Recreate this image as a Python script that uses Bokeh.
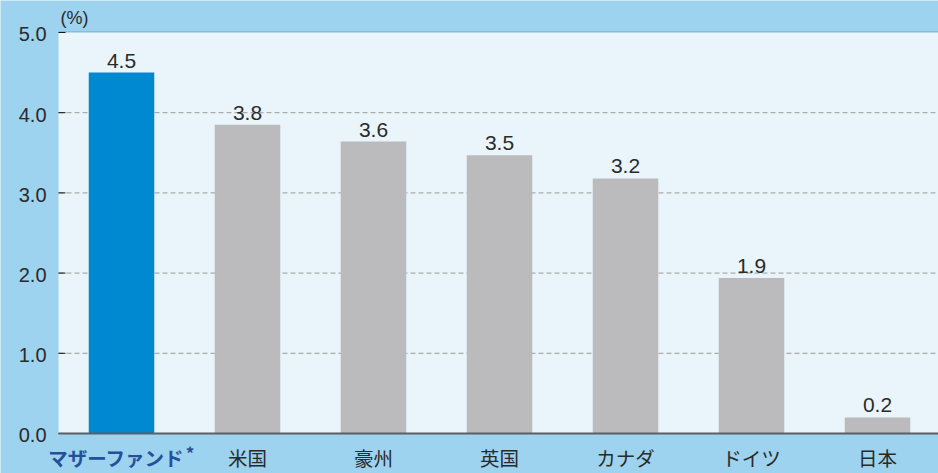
from bokeh.plotting import figure
from bokeh.models import ColumnDataSource, Range1d
from bokeh.core.properties import value
from bokeh.embed import file_html
from bokeh.resources import INLINE

categories = ["マザーファンド", "米国", "豪州", "英国", "カナダ", "ドイツ", "日本"]
values = [4.50, 3.85, 3.64, 3.47, 3.18, 1.94, 0.20]
value_labels = ["4.5", "3.8", "3.6", "3.5", "3.2", "1.9", "0.2"]
bar_colors = ["#0089d1", "#bbbbbe", "#bbbbbe", "#bbbbbe", "#bbbbbe", "#bbbbbe", "#bbbbbe"]
label_colors = ["#24509a", "#2a2a2a", "#2a2a2a", "#2a2a2a", "#2a2a2a", "#2a2a2a", "#2a2a2a"]
label_styles = ["bold", "normal", "normal", "normal", "normal", "normal", "normal"]
y_ticks = [0, 1, 2, 3, 4, 5]
y_tick_labels = ["0.0", "1.0", "2.0", "3.0", "4.0", "5.0"]
unit_label = "(%)"
footnote_mark = "*"

JP = "Noto Sans CJK JP"
NUM = "Liberation Sans"

n = len(categories)
xs = [i + 0.5 for i in range(n)]
src = ColumnDataSource(dict(x=xs, top=values, color=bar_colors, lab=value_labels))

W, H = 938, 473
p = figure(width=W, height=H, output_backend="svg", toolbar_location=None,
           x_range=Range1d(-0.4603, 6.984), y_range=Range1d(-0.499, 5.399))
p.min_border = 0
p.background_fill_color = "#9dd3ee"
p.border_fill_color = "#9dd3ee"
p.outline_line_color = None
p.xaxis.visible = False
p.yaxis.visible = False
p.xgrid.visible = False
p.ygrid.visible = False

# plot area panel with soft top edge
p.segment(x0=[0], x1=[n], y0=[y_ticks[-1]], y1=[y_ticks[-1]], line_color="#86bdd8", line_width=3)
p.quad(left=[0], right=[n], bottom=[y_ticks[0]], top=[y_ticks[-1]],
       fill_color="#eaf5fb", line_color=None)

# dashed grid lines
gy = y_ticks[1:-1]
p.segment(x0=[0] * len(gy), x1=[n] * len(gy), y0=gy, y1=gy,
          line_color="#9a9a9a", line_dash="5 3", line_width=1)

# y tick marks and labels
tick_len = 7 / 126
p.segment(x0=[0] * len(y_ticks), x1=[tick_len] * len(y_ticks), y0=y_ticks, y1=y_ticks,
          line_color="#111111", line_width=1)
p.text(x=[-0.095] * len(y_ticks), y=y_ticks, text=y_tick_labels, text_align="right",
       text_baseline="middle", y_offset=2, text_font=value(NUM), text_font_size="20px",
       text_color="#2a2a2a")

p.vbar(x="x", top="top", width=0.52, bottom=0, color="color", source=src, line_color=None)
p.text(x="x", y="top", text="lab", source=src, text_align="center", text_baseline="bottom",
       y_offset=-5, text_font=value(NUM), text_font_size="21px", text_color="#2a2a2a")

# baseline
p.segment(x0=[0], x1=[n], y0=[0], y1=[0], line_color="#5a5f63", line_width=2)

# category labels
cat_x = list(xs)
cat_x[0] = 0.46
csrc = ColumnDataSource(dict(x=cat_x, y=[-0.305] * n, t=categories, c=label_colors, s=label_styles))
p.text(x="x", y="y", text="t", source=csrc, text_align="center", text_baseline="middle",
       text_font=value(JP), text_font_size="19.5px", text_color="c", text_font_style="s")
p.text(x=[1.045], y=[-0.24], text=[footnote_mark], text_align="center", text_baseline="middle",
       text_font=value(JP), text_font_size="17px", text_font_style="bold", text_color="#24509a")

p.text(x=[0.016], y=[5.05], text=[unit_label], text_align="left", text_baseline="bottom",
       text_font=value(NUM), text_font_size="18px", text_color="#2a2a2a")

open("out.html", "w").write(file_html(p, INLINE))
